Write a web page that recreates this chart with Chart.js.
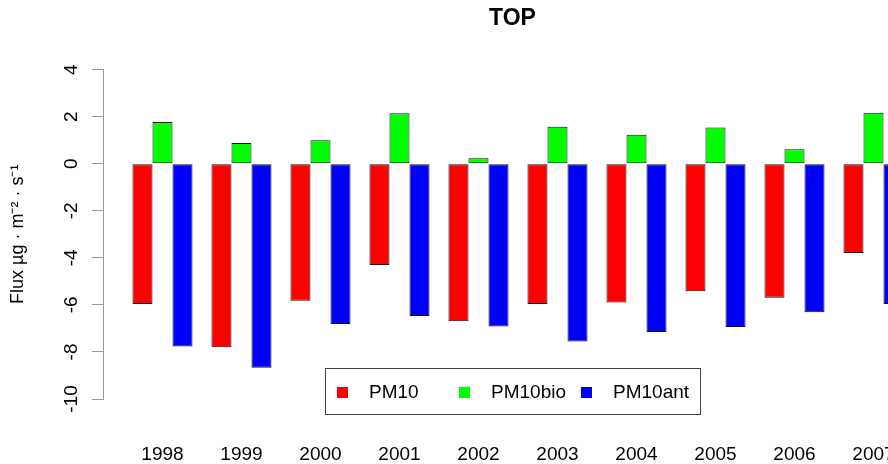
<!DOCTYPE html>
<html>
<head>
<meta charset="utf-8">
<script src="https://cdn.jsdelivr.net/npm/chart.js"></script>
<style>
  html, body { margin: 0; padding: 0; background: #fff; overflow: hidden; }
  #wrap { position: relative; width: 922px; height: 464px; }
  #legend {
    position: absolute; left: 325px; top: 368px; width: 374px; height: 45px;
    border: 1px solid #444; font-family: "Liberation Sans", Arial, sans-serif;
    font-size: 19px; color: #000;
  }
  #legend .item { position: absolute; top: 0; height: 45px; }
  #legend .box { position: absolute; top: 18px; width: 11px; height: 11px; }
  #legend .txt { position: absolute; left: 32px; top: 12px; white-space: nowrap; line-height: 22px; }
</style>
</head>
<body>
<div id="wrap">
  <canvas id="fluxChart" width="922" height="464"></canvas>
  <div id="legend"></div>
</div>
<script>
// data
const years = [1998, 1999, 2000, 2001, 2002, 2003, 2004, 2005, 2006, 2007];
const pm10 = [-5.96, -7.80, -5.82, -4.31, -6.70, -5.96, -5.90, -5.42, -5.70, -3.79];
const pm10bio = [1.77, 0.88, 1.00, 2.15, 0.23, 1.57, 1.23, 1.54, 0.62, 2.17];
const pm10ant = [-7.77, -8.67, -6.81, -6.47, -6.92, -7.56, -7.15, -6.94, -6.31, -5.96];
const yTicks = [-10, -8, -6, -4, -2, 0, 2, 4];
const seriesNames = ['PM10', 'PM10bio', 'PM10ant'];
const seriesColors = ['#ff0000', '#00ff00', '#0000ff'];

const FONT = '"Liberation Sans", Arial, sans-serif';
Chart.defaults.color = '#000';
Chart.defaults.font.family = FONT;

const seriesData = [pm10, pm10bio, pm10ant];

// legend box sits inside the plot, like R's legend()
const legendEl = document.getElementById('legend');
seriesNames.forEach(function(name, i) {
    const item = document.createElement('div');
    item.className = 'item';
    item.style.left = (11 + i * 122) + 'px';
    item.innerHTML = '<span class="box" style="background:' + seriesColors[i] + '"></span>' +
        '<span class="txt">' + name + '</span>';
    legendEl.appendChild(item);
});

const ctx = document.getElementById('fluxChart').getContext('2d');

new Chart(ctx, {
    type: 'bar',
    data: {
        labels: years,
        datasets: seriesNames.map(function(name, i) {
            return {
                label: name,
                data: seriesData[i],
                backgroundColor: seriesColors[i],
                borderColor: '#111',
                borderWidth: 1,
                borderSkipped: false,
                categoryPercentage: 0.76,
                barPercentage: 1.0
            };
        })
    },
    options: {
        responsive: false,
        animation: false,
        devicePixelRatio: 1,
        layout: { padding: 0 },
        plugins: {
            legend: { display: false },
            tooltip: { enabled: false },
            title: {
                display: true,
                text: 'TOP',
                fullSize: false,
                color: '#000',
                font: { family: FONT, size: 23, weight: 'bold' },
                padding: { top: 5, bottom: 37 }
            }
        },
        scales: {
            x: {
                type: 'linear',
                offset: false,
                min: 1997.247,
                max: 2007.614,
                // invisible tick marks push the year labels down without side padding
                grid: {
                    display: true,
                    drawOnChartArea: false,
                    drawTicks: true,
                    tickLength: 40,
                    color: 'rgba(0,0,0,0)'
                },
                border: { display: false },
                afterBuildTicks: function(scale) {
                    scale.ticks = years.map(function(v) { return { value: v }; });
                },
                afterFit: function(scale) { scale.height = 65; },
                ticks: {
                    autoSkip: false,
                    maxRotation: 0,
                    padding: 4,
                    font: { size: 19 },
                    callback: function(value) { return String(value); }
                }
            },
            y: {
                min: -10,
                max: 4,
                afterBuildTicks: function(scale) {
                    scale.ticks = yTicks.map(function(v) { return { value: v }; });
                },
                afterFit: function(scale) { scale.width = 103; },
                grid: {
                    display: true,
                    drawOnChartArea: false,
                    drawTicks: true,
                    tickLength: 11,
                    color: '#999'
                },
                border: { display: true, color: '#999' },
                ticks: {
                    minRotation: 90,
                    maxRotation: 90,
                    crossAlign: 'center',
                    padding: 7,
                    font: { size: 19 }
                },
                title: {
                    display: true,
                    text: 'Flux µg · m⁻² · s⁻¹',
                    font: { size: 18 },
                    padding: { top: 7, bottom: 0 }
                }
            }
        }
    }
});
</script>
</body>
</html>
